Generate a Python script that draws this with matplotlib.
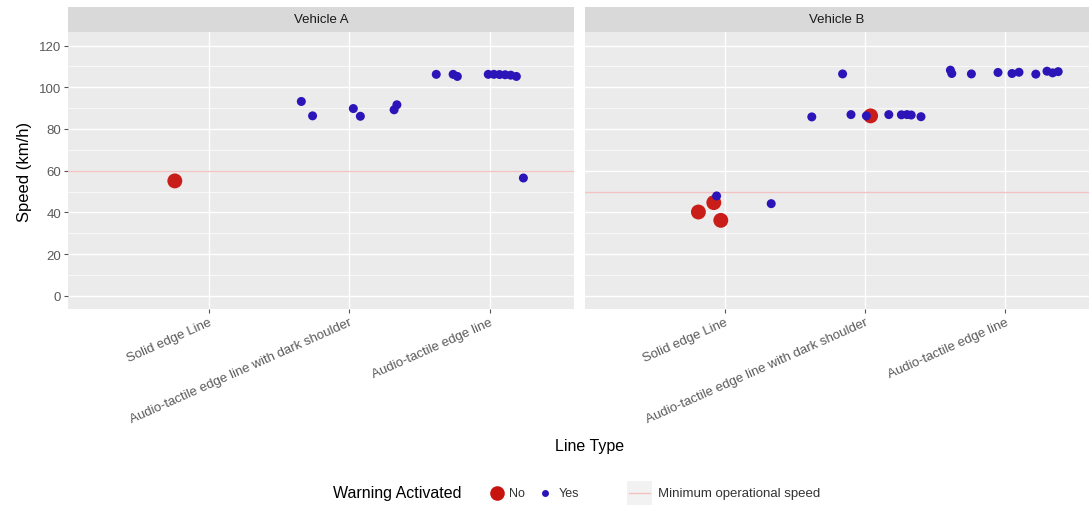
import numpy as np
import matplotlib.pyplot as plt
from matplotlib.lines import Line2D
from matplotlib.patches import Rectangle

# categories on the discrete x axis
categories = ['Solid edge Line', 'Audio-tactile edge line with dark shoulder', 'Audio-tactile edge line']
panels = ['Vehicle A', 'Vehicle B']
min_speed = [60, 50]

# Vehicle A (x = jittered position on the discrete axis, 1..3)
a_no_x = [0.76]
a_no_y = [55.1]
a_yes_x = [1.66, 1.74, 2.03, 2.08, 2.32, 2.34, 2.62, 2.74, 2.77,
           2.99, 3.03, 3.07, 3.11, 3.15, 3.19, 3.24]
a_yes_y = [93.2, 86.3, 89.8, 86.1, 89.2, 91.6, 106.2, 106.2, 105.2,
           106.2, 106.2, 106.1, 106.0, 105.8, 105.2, 56.5]

# Vehicle B
b_no_x = [0.92, 0.81, 0.97, 2.04]
b_no_y = [44.7, 40.2, 36.2, 86.3]
b_yes_x = [0.94, 1.33, 1.62, 1.84, 1.90, 2.01, 2.17, 2.26, 2.30, 2.33, 2.40,
           2.61, 2.62, 2.76, 2.95, 3.05, 3.10, 3.22, 3.30, 3.34, 3.38]
b_yes_y = [47.9, 44.2, 85.8, 106.4, 86.9, 86.3, 86.9, 86.8, 86.9, 86.7, 85.9,
           108.2, 106.6, 106.4, 107.1, 106.6, 107.2, 106.3, 107.7, 106.9, 107.5]

RED = '#C8120E'
BLUE = '#2B14B8'
LINE = '#F3C3C3'
GREY_TXT = '#5A5A5A'

W, H = 1089, 510
fig = plt.figure(figsize=(W / 100, H / 100), dpi=100)
plt.rcParams['font.family'] = 'Liberation Sans'

boxes = [(68, 574), (585, 1089)]
top, bottom = 33, 310
data = [(a_no_x, a_no_y, a_yes_x, a_yes_y), (b_no_x, b_no_y, b_yes_x, b_yes_y)]

for i, (x0, x1) in enumerate(boxes):
    ax = fig.add_axes([x0 / W, 1 - bottom / H, (x1 - x0) / W, (bottom - top) / H])
    ax.set_facecolor('#EBEBEB')
    for s in ax.spines.values():
        s.set_visible(False)
    ax.set_xlim(0.0, 3.6)
    ax.set_ylim(-6.3, 126.5)
    ax.set_yticks(np.arange(0, 121, 20))
    ax.set_yticks(np.arange(10, 121, 20), minor=True)
    ax.set_xticks([1, 2, 3])
    ax.grid(True, which='major', color='white', lw=1.0)
    ax.grid(True, which='minor', axis='y', color='white', lw=0.5)
    ax.set_axisbelow(True)
    ax.tick_params(axis='both', which='major', length=3, color='#555555',
                   labelsize=9.5, labelcolor=GREY_TXT, pad=2)
    ax.tick_params(which='minor', length=0)
    ax.set_xticklabels(categories, rotation=24, ha='right', rotation_mode='anchor')
    if i == 0:
        ax.set_ylabel('Speed (km/h)', fontsize=12, color='black', labelpad=5)
    else:
        ax.set_yticklabels([])
        ax.tick_params(axis='y', length=0)

    ax.axhline(min_speed[i], color=LINE, lw=1.0, zorder=1)
    nx, ny, yx, yy = data[i]
    ax.scatter(yx, yy, s=42, color=BLUE, edgecolors='none', zorder=3)
    ax.scatter(nx, ny, s=115, color=RED, edgecolors='none', alpha=0.95, zorder=2)

    # facet strip
    sax = fig.add_axes([x0 / W, 1 - top / H, (x1 - x0) / W, 25 / H])
    sax.set_facecolor('#D9D9D9')
    sax.set_xticks([])
    sax.set_yticks([])
    for s in sax.spines.values():
        s.set_visible(False)
    sax.text(0.5, 0.5, panels[i], ha='center', va='center', fontsize=9.5, color='#1A1A1A',
             transform=sax.transAxes)

fig.text(590 / W, 1 - 447 / H, 'Line Type', ha='center', va='center', fontsize=11.5)

# legend, placed by hand to mimic ggplot's horizontal bottom legend
ly = 1 - 494 / H
fig.text(333 / W, ly, 'Warning Activated', ha='left', va='center', fontsize=11.5)
fig.add_artist(Line2D([497 / W], [ly], transform=fig.transFigure, ls='none',
                      marker='o', ms=10.5, color=RED, mec='none'))
fig.text(509 / W, ly, 'No', ha='left', va='center', fontsize=9, color='#333333')
fig.add_artist(Line2D([545 / W], [ly], transform=fig.transFigure, ls='none',
                      marker='o', ms=5, color=BLUE, mec='none'))
fig.text(559 / W, ly, 'Yes', ha='left', va='center', fontsize=9, color='#333333')
fig.add_artist(Rectangle((627 / W, ly - 12 / H), 25 / W, 24 / H, transform=fig.transFigure,
                         facecolor='#F2F2F2', edgecolor='none'))
fig.add_artist(Line2D([629 / W, 650 / W], [ly, ly], transform=fig.transFigure,
                      color=LINE, lw=1.0))
fig.text(658 / W, ly, 'Minimum operational speed', ha='left', va='center',
         fontsize=9.5, color='#333333')

fig.savefig('out.png', dpi=100)
